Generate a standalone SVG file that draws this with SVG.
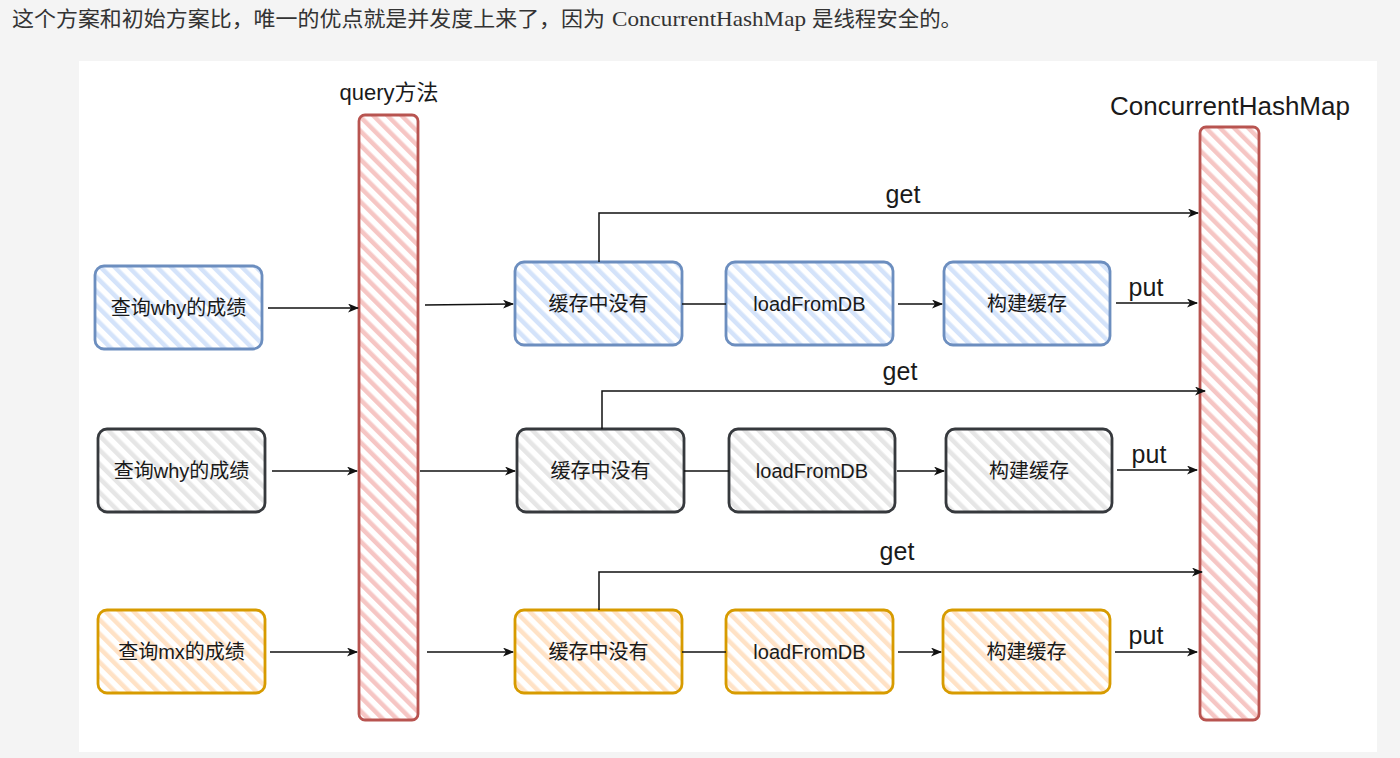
<svg xmlns="http://www.w3.org/2000/svg" width="1400" height="758" viewBox="0 0 1400 758">
<style>
.pg{font-family:"Liberation Serif","Noto Sans CJK SC",serif;font-size:21px;fill:#333333}
.lb{font-family:"Liberation Sans","Noto Sans CJK SC",sans-serif;font-size:20px;fill:#1a1a1a;text-anchor:middle;dominant-baseline:central}
.big{font-family:"Liberation Sans","Noto Sans CJK SC",sans-serif;font-size:25px;fill:#1a1a1a;text-anchor:middle}
.blue{fill:url(#hBlue);stroke:#6c8ebf;stroke-width:2.8}
.gray{fill:url(#hGray);stroke:#36393d;stroke-width:2.8}
.orange{fill:url(#hOrange);stroke:#d79b00;stroke-width:2.8}
.red{fill:url(#hRed);stroke:#b85450;stroke-width:2.8}
.cn{fill:none;stroke:#111;stroke-width:1.5}
.ar{marker-end:url(#arr)}
</style>
<defs>
<pattern id="hBlue" width="10" height="10" patternUnits="userSpaceOnUse" patternTransform="rotate(-45)"><rect width="10" height="10" fill="#ffffff"/><rect width="4.5" height="10" fill="#d4e3fa"/></pattern>
<pattern id="hGray" width="10" height="10" patternUnits="userSpaceOnUse" patternTransform="rotate(-45)"><rect width="10" height="10" fill="#ffffff"/><rect width="4.5" height="10" fill="#e6e6e6"/></pattern>
<pattern id="hOrange" width="10" height="10" patternUnits="userSpaceOnUse" patternTransform="rotate(-45)"><rect width="10" height="10" fill="#ffffff"/><rect width="4.5" height="10" fill="#ffe2c6"/></pattern>
<pattern id="hRed" width="10" height="10" patternUnits="userSpaceOnUse" patternTransform="rotate(-45)"><rect width="10" height="10" fill="#ffffff"/><rect width="4.5" height="10" fill="#f6c6c4"/></pattern>
<marker id="arr" markerWidth="11" markerHeight="9" refX="10" refY="4.5" orient="auto" markerUnits="userSpaceOnUse"><path d="M0,0 L11,4.5 L0,9 L3,4.5 Z" fill="#111"/></marker>
</defs>
<rect x="0" y="0" width="1400" height="758" fill="#f4f4f4"/>
<text class="pg" x="12" y="26" textLength="593" lengthAdjust="spacingAndGlyphs">这个方案和初始方案比，唯一的优点就是并发度上来了，因为</text>
<text class="pg" x="612" y="26" textLength="194" lengthAdjust="spacingAndGlyphs">ConcurrentHashMap</text>
<text class="pg" x="812" y="26" textLength="150" lengthAdjust="spacingAndGlyphs">是线程安全的。</text>
<rect x="79" y="61" width="1298" height="691" fill="#ffffff"/>

<g id="query">
<rect class="red" x="359" y="115" width="59" height="605" rx="6"/>
<text class="big" x="389" y="100" style="font-size:22px">query方法</text>
</g>
<g id="chm">
<rect class="red" x="1200" y="127" width="59" height="593" rx="6"/>
<text class="big" x="1230" y="115" style="font-size:26px">ConcurrentHashMap</text>
</g>

<g id="r1-query"><rect class="blue" x="95" y="266" width="167" height="83" rx="9"/><text class="lb" x="178.5" y="307.5">查询why的成绩</text></g>
<g id="r1-miss"><rect class="blue" x="515" y="262" width="167" height="83" rx="9"/><text class="lb" x="598.5" y="303.5">缓存中没有</text></g>
<g id="r1-load"><rect class="blue" x="726" y="262" width="167" height="83" rx="9"/><text class="lb" x="809.5" y="303.5">loadFromDB</text></g>
<g id="r1-build"><rect class="blue" x="944" y="262" width="166" height="83" rx="9"/><text class="lb" x="1027" y="303.5">构建缓存</text></g>

<g id="r2-query"><rect class="gray" x="98" y="429" width="167" height="83" rx="9"/><text class="lb" x="181.5" y="470.5">查询why的成绩</text></g>
<g id="r2-miss"><rect class="gray" x="517" y="429" width="167" height="83" rx="9"/><text class="lb" x="600.5" y="470.5">缓存中没有</text></g>
<g id="r2-load"><rect class="gray" x="729" y="429" width="166" height="83" rx="9"/><text class="lb" x="812" y="470.5">loadFromDB</text></g>
<g id="r2-build"><rect class="gray" x="946" y="429" width="166" height="83" rx="9"/><text class="lb" x="1029" y="470.5">构建缓存</text></g>

<g id="r3-query"><rect class="orange" x="98" y="610" width="167" height="83" rx="9"/><text class="lb" x="181.5" y="651.5">查询mx的成绩</text></g>
<g id="r3-miss"><rect class="orange" x="515" y="610" width="167" height="83" rx="9"/><text class="lb" x="598.5" y="651.5">缓存中没有</text></g>
<g id="r3-load"><rect class="orange" x="726" y="610" width="167" height="83" rx="9"/><text class="lb" x="809.5" y="651.5">loadFromDB</text></g>
<g id="r3-build"><rect class="orange" x="943" y="610" width="167" height="83" rx="9"/><text class="lb" x="1026.5" y="651.5">构建缓存</text></g>

<g id="connectors">
<path class="cn ar" d="M268,308 H358"/>
<path class="cn ar" d="M425,305 L513,304"/>
<path class="cn" d="M682,304 H726"/>
<path class="cn ar" d="M898,304 H942"/>
<path class="cn ar" d="M1116,303 H1197"/>
<path class="cn ar" d="M599,262 V213 H1198"/>
<text class="big" x="903" y="203">get</text>
<text class="big" x="1146" y="296">put</text>

<path class="cn ar" d="M272,471 H357"/>
<path class="cn ar" d="M420,471 H515"/>
<path class="cn" d="M684,471 H729"/>
<path class="cn ar" d="M897,471 H944"/>
<path class="cn ar" d="M1117,470 H1197"/>
<path class="cn ar" d="M602,429 V391 H1205"/>
<text class="big" x="900" y="380">get</text>
<text class="big" x="1149" y="463">put</text>

<path class="cn ar" d="M270,652 H357"/>
<path class="cn ar" d="M427,652 H513"/>
<path class="cn" d="M682,652 H726"/>
<path class="cn ar" d="M898,652 H941"/>
<path class="cn ar" d="M1115,652 H1197"/>
<path class="cn ar" d="M599,610 V572 H1202"/>
<text class="big" x="897" y="560">get</text>
<text class="big" x="1146" y="644">put</text>
</g>
</svg>
